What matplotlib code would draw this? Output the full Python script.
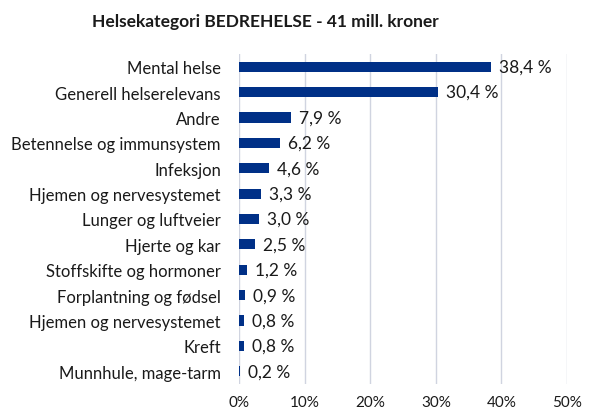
import matplotlib
matplotlib.use("Agg")
import matplotlib.pyplot as plt
from matplotlib.ticker import FuncFormatter

categories = ["Mental helse", "Generell helserelevans", "Andre", "Betennelse og immunsystem",
              "Infeksjon", "Hjemen og nervesystemet", "Lunger og luftveier", "Hjerte og kar",
              "Stoffskifte og hormoner", "Forplantning og fødsel", "Hjemen og nervesystemet",
              "Kreft", "Munnhule, mage-tarm"]
values = [38.4, 30.4, 7.9, 6.2, 4.6, 3.3, 3.0, 2.5, 1.2, 0.9, 0.8, 0.8, 0.2]
xticks = [0, 10, 20, 30, 40, 50]
title = "Helsekategori BEDREHELSE - 41 mill. kroner"

plt.rcParams['font.family'] = ['Lato', 'DejaVu Sans']
fig = plt.figure(figsize=(5.9, 4.14), dpi=100)
ax = fig.add_axes([239/590, 1-385/414, (567-239)/590, 330/414])

y = list(range(len(categories)))
ax.barh(y, values, height=0.4, color="#003087", zorder=3)
ax.set_ylim(len(categories)-0.5, -0.5)
ax.set_xlim(0, 50)
ax.set_yticks(y)
ax.set_yticklabels(categories, fontsize=12, color="#1a1a1a")
ax.set_xticks(xticks)
ax.xaxis.set_major_formatter(FuncFormatter(lambda v, p: f"{int(v)}%"))
ax.tick_params(axis='x', labelsize=11, colors="#1a1a1a", length=0, pad=8)
ax.tick_params(axis='y', length=0, pad=13)
ax.grid(axis='x', color="#d0d4e0", linewidth=1, zorder=0)
for s in ax.spines.values():
    s.set_visible(False)
for yi, v in zip(y, values):
    ax.text(v + 1.2, yi, f"{v:.1f} %".replace(".", ","), va='center', ha='left',
            fontsize=12.5, color="#1a1a1a", zorder=4)
fig.text(265/590, 1-22/414, title, ha='center', va='center', fontsize=12.5, fontweight='bold',
         color="#1a1a1a")
fig.savefig("out.png", dpi=100, facecolor="white")
